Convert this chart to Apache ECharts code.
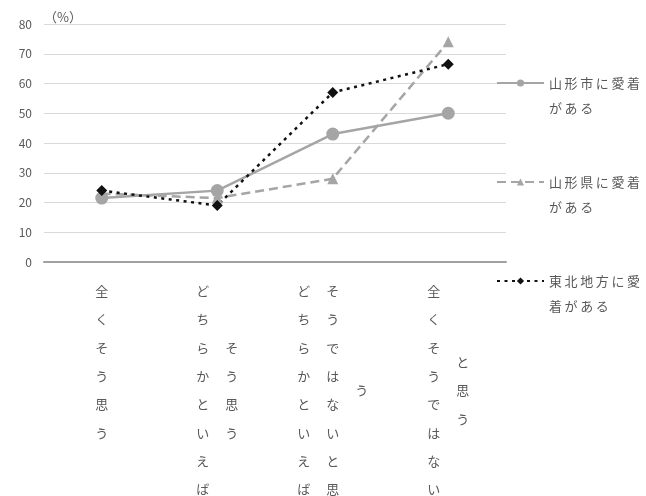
<!DOCTYPE html>
<html><head><meta charset="utf-8">
<script src="https://cdn.jsdelivr.net/npm/echarts@6/dist/echarts.min.js"></script>
<style>html,body{margin:0;padding:0;background:#fff}#c{width:646px;height:496px}</style>
</head><body><div id="c"></div>
<script>
const categories = ['全くそう思う', 'どちらかといえばそう思う', 'どちらかといえばそうではないと思う', '全くそうではないと思う'];
const seriesNames = ['山形市に愛着がある', '山形県に愛着がある', '東北地方に愛着がある'];
const cityValues = [21.5, 24, 43, 50];
const prefValues = [23, 21.5, 28, 74];
const tohokuValues = [24, 19, 57, 66.5];
const yMin = 0, yMax = 80, yStep = 10;
const yName = '（%）';

const FONT = '"Noto Sans CJK JP", "Noto Sans", sans-serif';
const TXT = '#595959';

function verticalLabel(s) {
  const chars = Array.from(s);
  const cols = [];
  for (let i = 0; i < chars.length; i += 8) cols.push(chars.slice(i, i + 8));
  const maxLen = cols[0].length;
  const lines = [];
  for (let r = 0; r < maxLen * 2 - 1; r++) {
    let line = '';
    for (const col of cols) {
      const k = r - (maxLen - col.length);
      let ch = '\u3000';
      if (k >= 0 && k % 2 === 0 && k / 2 < col.length) ch = col[k / 2];
      line += '{c|' + ch + '}';
    }
    lines.push(line);
  }
  return lines.join('\n');
}
function legendLabel(name) {
  const chars = Array.from(name);
  const lines = ['{t|\u3000}'];
  for (let i = 0; i < chars.length; i += 6) lines.push(chars.slice(i, i + 6).map(ch => '{t|' + ch + '}').join(''));
  return lines.join('\n');
}

const chart = echarts.init(document.getElementById('c'), null, {renderer: 'canvas'});
chart.setOption({
  animation: false,
  backgroundColor: '#fff',
  grid: {left: 44, right: 140, top: 24, bottom: 233},
  legend: {
    orient: 'vertical', left: 496, top: 51, padding: 0,
    itemWidth: 47, itemHeight: 9, itemGap: 35,
    formatter: legendLabel,
    textStyle: {
      color: TXT, fontFamily: FONT, fontSize: 13,
      rich: {t: {width: 15.6, fontSize: 13, lineHeight: 25.5, color: TXT, fontFamily: FONT}}
    },
    data: seriesNames
  },
  xAxis: {
    type: 'category', data: categories, boundaryGap: true,
    axisLine: {show: true, lineStyle: {color: '#a0a0a0', width: 2}},
    axisTick: {show: false},
    axisLabel: {
      interval: 0, margin: 22, formatter: verticalLabel,
      rich: {c: {width: 29, align: 'center', fontSize: 13, lineHeight: 14.17, color: TXT, fontFamily: FONT}}
    }
  },
  yAxis: {
    type: 'value', min: yMin, max: yMax, interval: yStep,
    name: yName, nameLocation: 'end', nameGap: 7,
    nameTextStyle: {align: 'left', verticalAlign: 'middle', color: TXT, fontFamily: FONT, fontSize: 13, padding: [0, 0, 0, 0]},
    axisLine: {show: false}, axisTick: {show: false},
    axisLabel: {margin: 12, color: TXT, fontFamily: FONT, fontSize: 12},
    splitLine: {lineStyle: {color: '#d9d9d9', width: 1}}
  },
  series: [
    {name: seriesNames[0], type: 'line', data: cityValues, symbol: 'circle', symbolSize: 13,
     lineStyle: {color: '#a5a5a5', width: 2.5}, itemStyle: {color: '#a5a5a5'}},
    {name: seriesNames[1], type: 'line', data: prefValues, symbol: 'triangle', symbolSize: 11,
     lineStyle: {color: '#a5a5a5', width: 2.5, type: [9, 5]}, itemStyle: {color: '#a5a5a5'}},
    {name: seriesNames[2], type: 'line', data: tohokuValues, symbol: 'diamond', symbolSize: 11,
     lineStyle: {color: '#111', width: 2.5, type: [3, 4.5]}, itemStyle: {color: '#111'}}
  ]
});
</script></body></html>
